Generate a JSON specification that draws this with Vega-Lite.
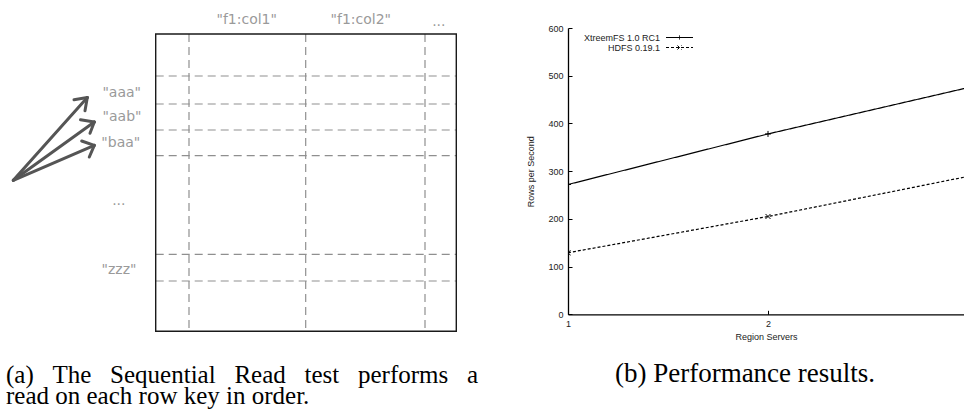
{
  "$schema": "https://vega.github.io/schema/vega-lite/v6.json",
  "background": "white",
  "padding": {"left": 0, "top": 13, "right": 0, "bottom": 0},
  "bounds": "flush",
  "spacing": 88,
  "config": {"view": {"stroke": null}},
  "hconcat": [
    {
      "width": 480,
      "height": 313,
      "title": {
        "text": ["(a) \u00a0\u00a0The \u00a0\u00a0Sequential \u00a0\u00a0Read \u00a0\u00a0test \u00a0\u00a0performs \u00a0\u00a0a", "read on each row key in order."],
        "orient": "bottom", "anchor": "start", "font": "Liberation Serif", "fontSize": 25,
        "fontWeight": "normal", "color": "black", "offset": 22, "lineHeight": 20.7, "dx": 6
      },
      "encoding": {
        "x": {"field": "x", "type": "quantitative", "scale": {"domain": [0, 480], "nice": false, "zero": false}, "axis": null},
        "y": {"field": "y", "type": "quantitative", "scale": {"domain": [27.7, 340.7], "nice": false, "zero": false, "reverse": true}, "axis": null}
      },
      "layer": [
        {
          "data": {"values": [
            {"x": 189, "x2": 189, "y": 33.7, "y2": 331},
            {"x": 305.7, "x2": 305.7, "y": 33.7, "y2": 331},
            {"x": 425, "x2": 425, "y": 33.7, "y2": 331},
            {"x": 155.7, "x2": 456.3, "y": 75.7, "y2": 75.7},
            {"x": 155.7, "x2": 456.3, "y": 103.7, "y2": 103.7},
            {"x": 155.7, "x2": 456.3, "y": 129.7, "y2": 129.7},
            {"x": 155.7, "x2": 456.3, "y": 155.3, "y2": 155.3},
            {"x": 155.7, "x2": 456.3, "y": 254, "y2": 254},
            {"x": 155.7, "x2": 456.3, "y": 280.7, "y2": 280.7}
          ]},
          "mark": {"type": "rule", "stroke": "#8f8f8f", "strokeWidth": 1.2, "strokeDash": [8, 5]},
          "encoding": {"x2": {"field": "x2"}, "y2": {"field": "y2"}}
        },
        {
          "data": {"values": [{"x": 155.7, "x2": 456.3, "y": 33.7, "y2": 331}]},
          "mark": {"type": "rect", "fillOpacity": 0, "stroke": "#1a1a1a", "strokeWidth": 1.4},
          "encoding": {"x2": {"field": "x2"}, "y2": {"field": "y2"}}
        },
        {
          "data": {"values": [
            {"x": 13.3, "y": 180, "x2": 87.3, "y2": 97.3},
            {"x": 87.3, "y": 97.3, "x2": 74, "y2": 99.5},
            {"x": 87.3, "y": 97.3, "x2": 85, "y2": 110.5},
            {"x": 13.3, "y": 180, "x2": 94.3, "y2": 121.7},
            {"x": 94.3, "y": 121.7, "x2": 80.5, "y2": 119.5},
            {"x": 94.3, "y": 121.7, "x2": 90, "y2": 133},
            {"x": 13.3, "y": 180, "x2": 94.3, "y2": 145},
            {"x": 94.3, "y": 145, "x2": 81.7, "y2": 140.7},
            {"x": 94.3, "y": 145, "x2": 89.3, "y2": 156.7}
          ]},
          "mark": {"type": "rule", "stroke": "#555555", "strokeWidth": 3, "strokeCap": "round"},
          "encoding": {"x2": {"field": "x2"}, "y2": {"field": "y2"}}
        },
        {
          "data": {"values": [
            {"x": 246.7, "y": 24, "label": "\"f1:col1\""},
            {"x": 360.8, "y": 24, "label": "\"f1:col2\""},
            {"x": 438.8, "y": 25.7, "label": "..."},
            {"x": 121.7, "y": 96.7, "label": "\"aaa\""},
            {"x": 122, "y": 120.7, "label": "\"aab\""},
            {"x": 120.8, "y": 146.7, "label": "\"baa\""},
            {"x": 118.8, "y": 205, "label": "..."},
            {"x": 119, "y": 273.3, "label": "\"zzz\""}
          ]},
          "mark": {"type": "text", "font": "DejaVu Sans", "fontSize": 14, "color": "#9a9a9a", "align": "center", "baseline": "alphabetic"},
          "encoding": {"text": {"field": "label"}}
        }
      ]
    },
    {
      "width": 396,
      "height": 286.3,
      "title": {
        "text": "(b) Performance results.",
        "orient": "bottom", "anchor": "middle", "font": "Liberation Serif", "fontSize": 27,
        "fontWeight": "normal", "color": "black", "offset": 19.5, "dx": -21
      },
      "data": {"values": [
        {"servers": 1, "rows": 272, "fs": "XtreemFS 1.0 RC1"},
        {"servers": 2, "rows": 378, "fs": "XtreemFS 1.0 RC1"},
        {"servers": 3, "rows": 475, "fs": "XtreemFS 1.0 RC1"},
        {"servers": 1, "rows": 129, "fs": "HDFS 0.19.1"},
        {"servers": 2, "rows": 205, "fs": "HDFS 0.19.1"},
        {"servers": 3, "rows": 289, "fs": "HDFS 0.19.1"}
      ]},
      "encoding": {
        "x": {
          "field": "servers", "type": "quantitative",
          "scale": {"domain": [1, 2.98], "nice": false, "zero": false},
          "axis": {
            "values": [1, 2], "format": "d", "title": "Region Servers",
            "titleFont": "Liberation Sans", "titleFontSize": 9, "titleFontWeight": "normal", "titleColor": "#222", "titlePadding": 4,
            "labelFont": "Liberation Sans", "labelFontSize": 9, "labelColor": "#222", "labelPadding": 9, "labelFlush": false,
            "tickSize": -4, "tickColor": "black", "tickWidth": 1,
            "domainColor": "black", "domainWidth": 1.3, "grid": false
          }
        },
        "y": {
          "field": "rows", "type": "quantitative",
          "scale": {"domain": [0, 600], "nice": false, "zero": true},
          "axis": {
            "values": [0, 100, 200, 300, 400, 500, 600], "title": "Rows per Second",
            "titleFont": "Liberation Sans", "titleFontSize": 9, "titleFontWeight": "normal", "titleColor": "#222", "titlePadding": 12,
            "labelFont": "Liberation Sans", "labelFontSize": 9, "labelColor": "#222", "labelPadding": 9,
            "tickSize": -4, "tickColor": "black", "tickWidth": 1,
            "domainColor": "black", "domainWidth": 1.3, "grid": false
          }
        }
      },
      "layer": [
        {
          "mark": {"type": "line", "clip": true, "color": "black", "strokeWidth": 1.2},
          "encoding": {
            "strokeDash": {
              "field": "fs", "type": "nominal",
              "scale": {"domain": ["XtreemFS 1.0 RC1", "HDFS 0.19.1"], "range": [[1, 0], [3, 2]]},
              "legend": {
                "title": null, "orient": "none", "legendX": 674.5, "legendY": 4.5,
                "symbolSize": 81, "symbolStrokeColor": "black", "symbolStrokeWidth": 1,
                "labelAlign": "right", "labelOffset": -24.5, "labelFont": "Liberation Sans",
                "labelFontSize": 9, "labelColor": "#222", "rowPadding": -2, "padding": 0,
                "encode": {"symbols": {"update": {
                  "shape": {"signal": "datum.value === 'HDFS 0.19.1' ? 'M-3,0L3,0M-0.45,-0.45L0.45,0.45M-0.45,0.45L0.45,-0.45' : 'M-3,0L3,0M0,-0.45L0,0.45'"},
                  "fill": {"value": "transparent"}
                }}}
              }
            }
          }
        },
        {
          "transform": [{"filter": "datum.fs === 'XtreemFS 1.0 RC1'"}],
          "mark": {"type": "point", "clip": true, "filled": false, "color": "black", "strokeWidth": 1, "opacity": 1, "size": 36, "shape": "M-1,0L1,0M0,-1L0,1"}
        },
        {
          "transform": [{"filter": "datum.fs === 'HDFS 0.19.1'"}],
          "mark": {"type": "point", "clip": true, "filled": false, "color": "black", "strokeWidth": 1, "opacity": 1, "size": 25, "shape": "M-1,-1L1,1M-1,1L1,-1"}
        }
      ]
    }
  ]
}
